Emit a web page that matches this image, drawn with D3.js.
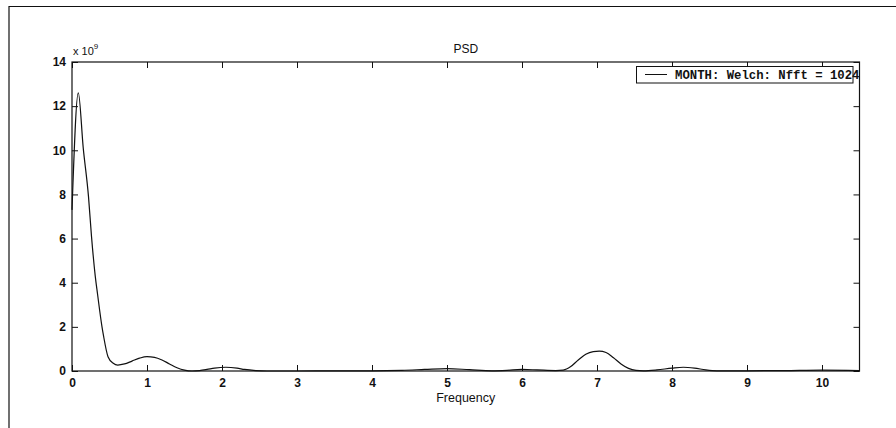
<!DOCTYPE html>
<html>
<head>
<meta charset="utf-8">
<script src="https://cdn.jsdelivr.net/npm/d3@7"></script>
<style>
  body { margin: 0; background: #fff; }
  svg { display: block; }
</style>
</head>
<body>
<div id="chart"></div>
<script>
// PSD estimate, values in units of 1e9
let freq = [0, 0.084, 0.15, 0.22, 0.26, 0.31, 0.34, 0.40, 0.42, 0.48, 0.55, 0.61, 0.7, 0.8, 0.9, 1.0, 1.1, 1.2, 1.3, 1.4, 1.5, 1.6, 1.7, 1.8, 1.9, 2.05, 2.2, 2.3, 2.45, 2.6, 3.0, 3.5, 4.0, 4.4, 4.7, 5.0, 5.3, 5.6, 5.8, 6.0, 6.2, 6.45, 6.55, 6.65, 6.75, 6.85, 6.95, 7.03, 7.12, 7.22, 7.32, 7.42, 7.52, 7.62, 7.8, 8.0, 8.15, 8.3, 8.45, 8.6, 9.0, 9.5, 10.0, 10.5];
let psd  = [7.3, 12.6, 10.1, 7.9, 6.1, 4.3, 3.5, 2.0, 1.6, 0.65, 0.35, 0.27, 0.32, 0.45, 0.58, 0.65, 0.62, 0.5, 0.32, 0.15, 0.04, 0.0, 0.02, 0.07, 0.13, 0.17, 0.13, 0.07, 0.02, 0.0, 0.0, 0.01, 0.01, 0.03, 0.07, 0.11, 0.06, 0.01, 0.03, 0.07, 0.05, 0.02, 0.04, 0.2, 0.5, 0.76, 0.88, 0.9, 0.84, 0.6, 0.32, 0.12, 0.03, 0.01, 0.05, 0.13, 0.17, 0.13, 0.05, 0.01, 0.01, 0.02, 0.04, 0.02];
let xTicks = [0, 1, 2, 3, 4, 5, 6, 7, 8, 9, 10];
let yTicks = [0, 2, 4, 6, 8, 10, 12, 14];
let legendLabel = "MONTH: Welch: Nfft = 1024";

let width = 896, height = 428;
let margin = { left: 72, top: 62, right: 896 - 859.5, bottom: 428 - 371 };
let pw = width - margin.left - margin.right;
let ph = height - margin.top - margin.bottom;

let svg = d3.select("#chart").append("svg")
    .attr("width", width)
    .attr("height", height);

// page frame (scan edges)
svg.append("line").attr("x1", 9).attr("x2", 896).attr("y1", 6.5).attr("y2", 6.5)
    .style("stroke", "#111").style("stroke-width", 1.2);
svg.append("line").attr("x1", 9).attr("x2", 9).attr("y1", 6).attr("y2", 428)
    .style("stroke", "#111").style("stroke-width", 1.2);

let x = d3.scaleLinear().domain([0, 10.5]).range([0, pw]);
let y = d3.scaleLinear().domain([0, 14]).range([ph, 0]);

let g = svg.append("g").attr("transform", `translate(${margin.left},${margin.top})`);

let tickLen = 6;
let styleAxis = function (sel) {
    sel.select(".domain").remove();
    sel.selectAll("line").style("stroke", "#111").style("stroke-width", 1);
    sel.selectAll("text")
        .style("font-family", "'Liberation Sans', Arial, sans-serif")
        .style("font-size", "12px")
        .style("font-weight", "bold")
        .style("fill", "#111");
};

g.append("g").attr("transform", `translate(0,${ph})`)
    .call(d3.axisBottom(x).tickValues(xTicks).tickSize(-tickLen).tickPadding(7).tickFormat(d3.format("d")))
    .call(styleAxis);
g.append("g")
    .call(d3.axisTop(x).tickValues(xTicks).tickSize(-tickLen).tickFormat(""))
    .call(styleAxis);
g.append("g")
    .call(d3.axisLeft(y).tickValues(yTicks).tickSize(-tickLen).tickPadding(6).tickFormat(d3.format("d")))
    .call(styleAxis);
g.append("g").attr("transform", `translate(${pw},0)`)
    .call(d3.axisRight(y).tickValues(yTicks).tickSize(-tickLen).tickFormat(""))
    .call(styleAxis);

g.append("rect")
    .attr("width", pw).attr("height", ph)
    .style("fill", "none").style("stroke", "#111").style("stroke-width", 1.2);

let pts = freq.map((f, i) => [f, psd[i]]);
g.append("path")
    .datum(pts)
    .attr("d", d3.line().x(d => x(d[0])).y(d => y(d[1])).curve(d3.curveMonotoneX))
    .style("fill", "none")
    .style("stroke", "#111")
    .style("stroke-width", 1.2);

// exponent label
let ex = svg.append("text")
    .attr("x", 73).attr("y", 55)
    .style("font-family", "'Liberation Sans', Arial, sans-serif")
    .style("font-size", "11px")
    .style("fill", "#111");
ex.append("tspan").text("x 10");
ex.append("tspan").attr("dy", -6).style("font-size", "8px").text("9");

// title and axis label
svg.append("text")
    .attr("x", margin.left + pw / 2).attr("y", 53)
    .attr("text-anchor", "middle")
    .style("font-family", "'Liberation Sans', Arial, sans-serif")
    .style("font-size", "12px")
    .style("fill", "#111")
    .text("PSD");
svg.append("text")
    .attr("x", margin.left + pw / 2).attr("y", 402)
    .attr("text-anchor", "middle")
    .style("font-family", "'Liberation Sans', Arial, sans-serif")
    .style("font-size", "12.5px")
    .style("fill", "#111")
    .text("Frequency");

// legend
let lg = svg.append("g");
lg.append("rect")
    .attr("x", 636.5).attr("y", 66.5).attr("width", 216.5).attr("height", 16.5)
    .style("fill", "#fff").style("stroke", "#111").style("stroke-width", 1);
lg.append("line")
    .attr("x1", 645).attr("x2", 667).attr("y1", 74.5).attr("y2", 74.5)
    .style("stroke", "#111").style("stroke-width", 1);
lg.append("text")
    .attr("x", 675).attr("y", 79)
    .style("font-family", "'Liberation Mono', 'Courier New', monospace")
    .style("font-size", "12.3px")
    .style("font-weight", "bold")
    .style("fill", "#111")
    .text(legendLabel);
</script>
</body>
</html>
